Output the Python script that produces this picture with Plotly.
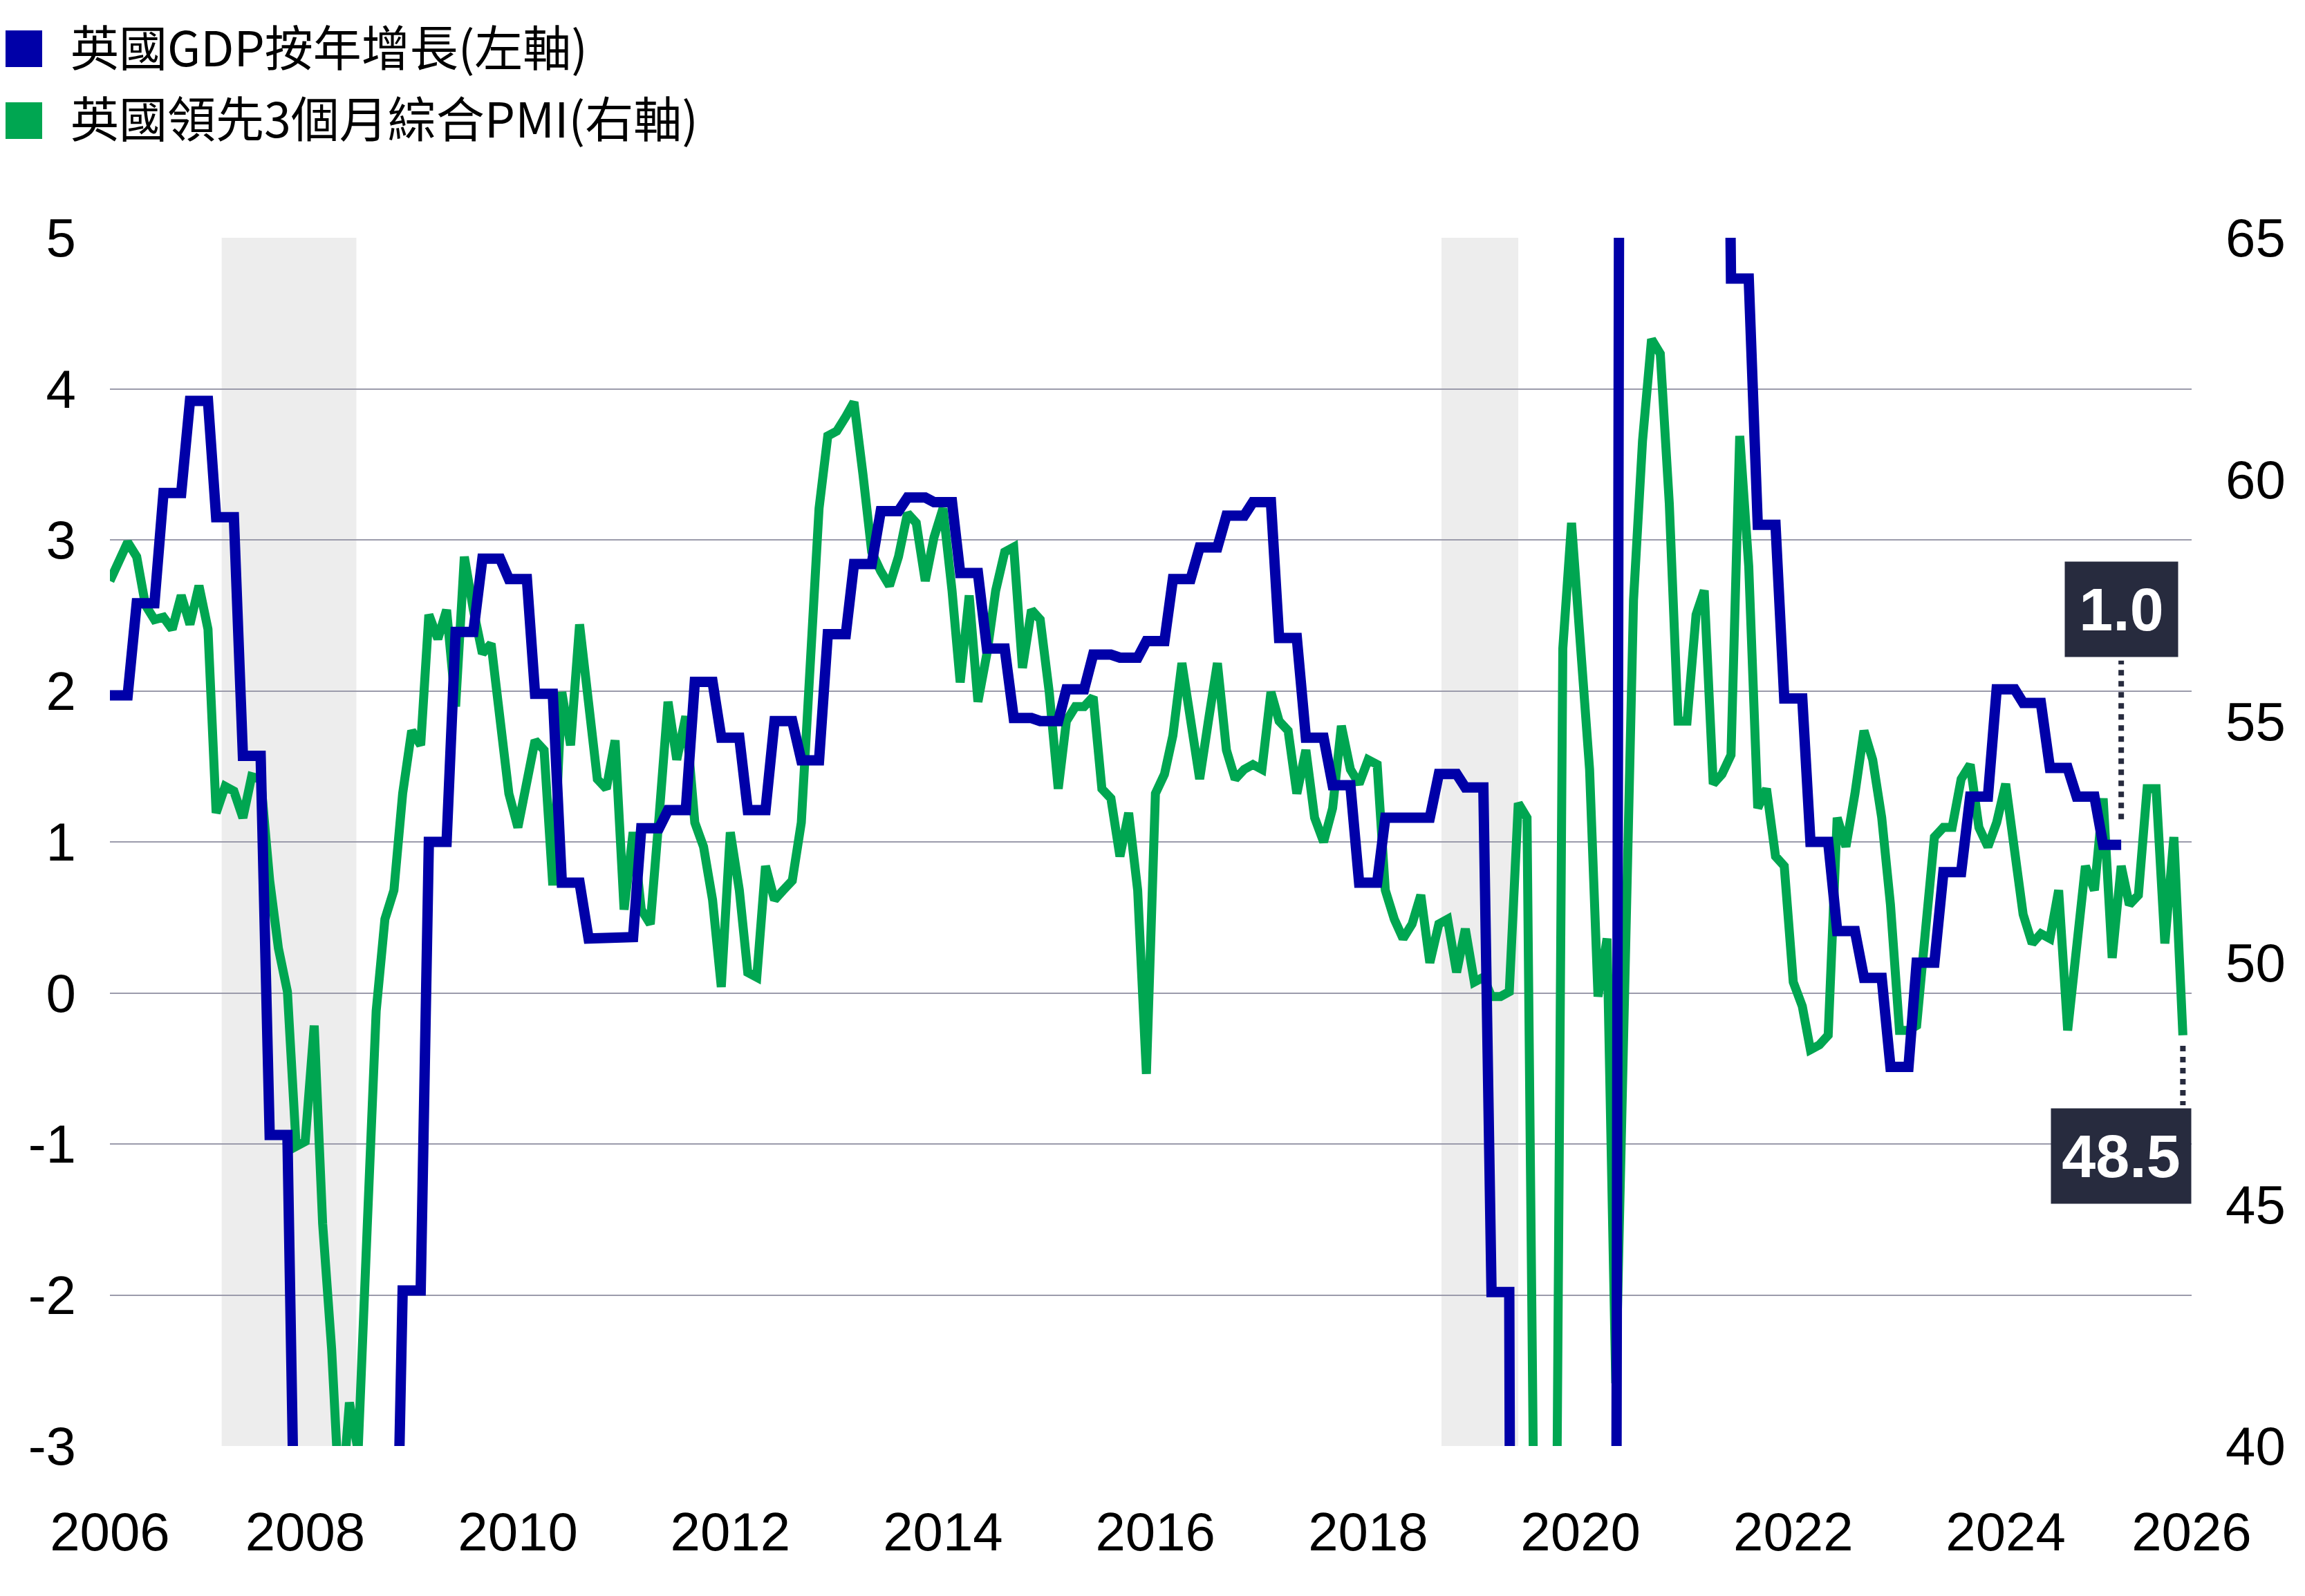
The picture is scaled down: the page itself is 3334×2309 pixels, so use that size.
import pandas as pd
import numpy as np
import plotly.graph_objects as go

# ---------------- data ----------------
# UK GDP y/y (%), one value per quarter; each quarter is held for three monthly points
GDP_START = "2006-03-01"
gdp_yoy = [1.97, 2.58, 3.31, 3.92, 3.15, 1.57, -0.94, -4.3, -6.1, -6.3,
           -4.8, -1.97, 1.0, 2.39, 2.875, 2.74, 1.98, 0.73, 0.36, 0.37,
           1.09, 1.21, 2.06, 1.69, 1.21, 1.80, 1.54, 2.375, 2.84, 3.19,
           3.28, 3.25, 2.78, 2.28, 1.82, 1.80, 2.01, 2.24, 2.22, 2.33,
           2.74, 2.95, 3.16, 3.25, 2.35, 1.69, 1.375, 0.73, 1.16, 1.16,
           1.45, 1.36, -1.98, -21.0, -8.0, -6.5, -5.5, 24.0, 8.5, 7.0,
           10.5, 4.73, 3.10, 1.95, 1.0, 0.41, 0.10, -0.49, 0.20, 0.80,
           1.30, 2.01, 1.92, 1.49, 1.30, 0.98]

# UK composite PMI, led 3 months (monthly)
PMI_START = "2006-03-01"
pmi = [57.9, 58.3, 58.7, 58.4, 57.4, 57.1, 57.15, 56.9, 57.6, 57.0, 57.8, 56.9,
       53.1, 53.65, 53.55, 53.0, 53.85, 53.8, 51.7, 50.3, 49.4, 46.2, 46.3, 48.7,
       44.6, 42.0, 38.5, 40.9, 39.9,
       44.5, 49.0, 50.9, 51.5, 53.5, 54.8, 54.5, 57.2, 56.7, 57.3, 55.3, 58.4,
       57.3, 56.4, 56.6, 55.0, 53.5, 52.8, 53.8, 54.6, 54.4, 51.6, 55.6, 54.5,
       57.0, 55.5, 53.8, 53.6, 54.6, 51.1, 52.7, 51.1, 50.8, 53.0, 55.4, 54.2,
       55.1, 52.9, 52.4, 51.3, 49.5, 52.7, 51.5, 49.8,
       49.7, 52.0, 51.3, 51.5, 51.7, 52.9, 55.8, 59.4, 60.9, 61.0, 61.3, 61.6,
       60.1, 58.5, 58.1, 57.8, 58.4, 59.3, 59.1, 57.9, 58.8, 59.4, 57.7, 55.8,
       57.6, 55.4, 56.4, 57.7, 58.5, 58.6, 56.1, 57.3, 57.1, 55.6, 53.6, 55.0,
       55.3, 55.3, 55.5, 53.6, 53.4, 52.2, 53.1, 51.5, 47.7, 53.5, 53.9, 54.7,
       56.2, 55.0, 53.8, 55.0, 56.2, 54.4, 53.8, 54.0, 54.1, 54.0, 55.6, 55.0,
       54.8, 53.5, 54.4, 53.0, 52.5, 53.2, 54.9, 54.0, 53.7, 54.2, 54.1, 51.5,
       50.9, 50.5, 50.8, 51.4, 50.0, 50.8, 50.9, 49.8, 50.7, 49.6, 49.7, 49.3,
       49.3, 49.4, 53.3, 53.0, 36.0, 15.0, 30.0, 56.5,
       59.1, 56.8, 54.0, 49.3, 50.5, 41.3, 50.0, 57.5, 60.8, 62.9, 62.6, 59.5,
       55.0, 55.0, 57.2, 57.7, 53.7, 53.9, 54.3, 60.9, 58.2, 53.2, 53.6, 52.2,
       52.0, 49.6, 49.1, 48.2, 48.3, 48.5, 53.0, 52.4, 53.5, 54.8, 54.2, 53.0,
       51.2, 48.6, 48.6, 48.7, 50.7, 52.6, 52.8, 52.8, 53.8, 54.1, 52.8, 52.4,
       52.9, 53.7, 52.3, 51.0, 50.4,
       50.6, 50.5, 51.5, 48.6, 50.5, 52.0, 51.5, 53.4, 50.1, 52.0, 51.2, 51.4,
       53.6, 53.6, 50.4, 52.6, 48.5]

# shaded periods
shade_starts = ["2007-03-20", "2018-09-10"]
shade_ends = ["2008-06-25", "2019-06-01"]

# axes
x_range = ["2006-03-01", "2025-10-01"]
x_tickvals = ["2006-03-01", "2008-01-01", "2010-01-01", "2012-01-01", "2014-01-01",
              "2016-01-01", "2018-01-01", "2020-01-01", "2022-01-01", "2024-01-01",
              "2025-10-01"]
x_ticktext = ["2006", "2008", "2010", "2012", "2014", "2016", "2018", "2020",
              "2022", "2024", "2026"]
left_ticks = [-3, -2, -1, 0, 1, 2, 3, 4, 5]
left_ticktext = ["-3", "-2", "-1", "0", "1", "2", "3", "4", "5"]
right_ticks = [40, 45, 50, 55, 60, 65]

legend_names = ["英國GDP按年增長(左軸)", "英國領先3個月綜合PMI(右軸)"]

# ---------------- styling ----------------
BLUE = "#0000A8"
GREEN = "#00A651"
SHADE = "#EDEDED"
GRID = "#9B9BAB"
BOX = "#272B3E"
TICK_FONT = dict(family="Liberation Sans, Arial, sans-serif", size=78, color="#000000")

W, H = 3334, 2309
L, R, T, B = 159, 164, 344, 217
PW, PH = W - L - R, H - T - B


def px(x):
    return (x - L) / PW


def py(y):
    return (H - B - y) / PH


gdp_dates = pd.date_range(GDP_START, periods=len(gdp_yoy) * 3, freq="MS")
gdp_monthly = np.repeat(gdp_yoy, 3)
pmi_dates = pd.date_range(PMI_START, periods=len(pmi), freq="MS")

fig = go.Figure()
# PMI on the main (right-hand) axis so the GDP overlay draws on top of it
fig.add_trace(go.Scatter(x=pmi_dates, y=pmi, yaxis="y", mode="lines",
                         line=dict(color=GREEN, width=13), name=legend_names[1],
                         showlegend=False, hoverinfo="skip"))
fig.add_trace(go.Scatter(x=gdp_dates, y=gdp_monthly, yaxis="y2", mode="lines",
                         line=dict(color=BLUE, width=15), name=legend_names[0],
                         showlegend=False, hoverinfo="skip"))

shapes = []
for s, e in zip(shade_starts, shade_ends):
    shapes.append(dict(type="rect", xref="x", yref="paper", x0=s, x1=e, y0=0, y1=1,
                       fillcolor=SHADE, line=dict(width=0), layer="below"))

# legend squares + labels
annotations = []
for i, (name, col) in enumerate(zip(legend_names, [BLUE, GREEN])):
    top = 44 + i * 104
    shapes.append(dict(type="rect", xref="paper", yref="paper",
                       x0=px(8), x1=px(61), y0=py(top + 53), y1=py(top),
                       fillcolor=col, line=dict(width=0)))
    annotations.append(dict(xref="paper", yref="paper", x=px(100), y=py(top + 21),
                            xanchor="left", yanchor="middle", showarrow=False,
                            text=name,
                            font=dict(family="Noto Sans CJK TC", size=70, color="#000000")))

# value call-outs
gdp_last_date = gdp_dates[-1]
gdp_last = gdp_yoy[-1]
pmi_last_date = pmi_dates[-1]
pmi_last = pmi[-1]

shapes.append(dict(type="line", xref="x", yref="y2", x0=gdp_last_date, x1=gdp_last_date,
                   y0=gdp_last + 0.17, y1=gdp_last + 1.22,
                   line=dict(color=BOX, width=8, dash="dot")))
annotations.append(dict(xref="x", yref="y2", x=gdp_last_date, y=gdp_last + 1.56,
                        xanchor="center", yanchor="middle", showarrow=False,
                        text=f"<b>{gdp_last:.1f}</b>", bgcolor=BOX, borderpad=0,
                        width=163, height=137, valign="middle",
                        font=dict(family="Liberation Sans, Arial, sans-serif", size=88, color="#FFFFFF")))

shapes.append(dict(type="line", xref="x", yref="y", x0=pmi_last_date, x1=pmi_last_date,
                   y0=pmi_last - 0.22, y1=pmi_last - 1.45,
                   line=dict(color=BOX, width=8, dash="dot")))
annotations.append(dict(xref="paper", yref="y", x=1.0, y=pmi_last - 2.5,
                        xanchor="right", yanchor="middle", showarrow=False,
                        text=f"<b>{pmi_last:.1f}</b>", bgcolor=BOX, borderpad=0,
                        width=202, height=137, valign="middle",
                        font=dict(family="Liberation Sans, Arial, sans-serif", size=88, color="#FFFFFF")))

fig.update_layout(
    width=W, height=H,
    margin=dict(l=L, r=R, t=T, b=B, pad=0),
    paper_bgcolor="#FFFFFF", plot_bgcolor="#FFFFFF",
    showlegend=False,
    shapes=shapes, annotations=annotations,
    xaxis=dict(type="date", range=x_range, tickvals=x_tickvals, ticktext=x_ticktext,
               showgrid=False, zeroline=False, showline=False, ticks="",
               tickfont=TICK_FONT, ticklabelstandoff=72),
    yaxis=dict(range=[40, 65], tickvals=right_ticks, side="right",
               showgrid=False, zeroline=False, showline=False, ticks="",
               tickfont=TICK_FONT, ticklabelstandoff=48),
    yaxis2=dict(range=[-3, 5], tickvals=left_ticks, ticktext=left_ticktext,
                overlaying="y", side="left", anchor="x",
                showgrid=True, gridcolor=GRID, gridwidth=2,
                zeroline=False, showline=False, ticks="",
                tickfont=TICK_FONT, ticklabelstandoff=48),
)

fig.write_html("out.html")
